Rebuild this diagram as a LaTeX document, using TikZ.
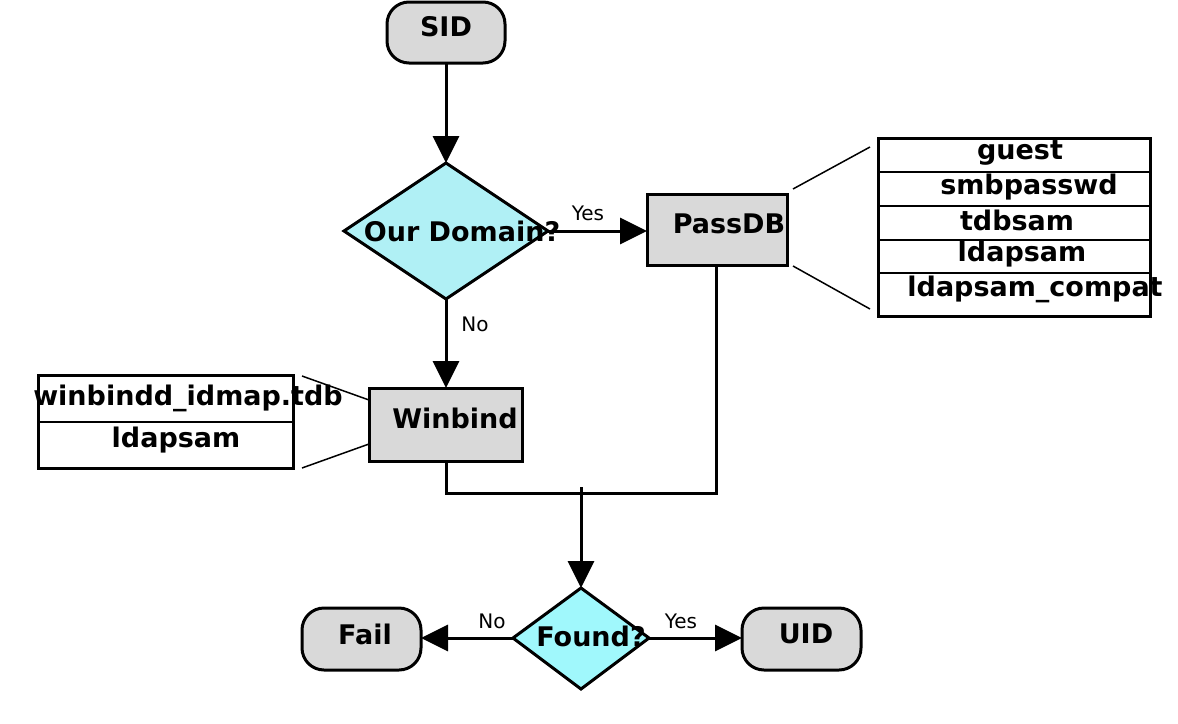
\documentclass[tikz,border=0pt]{standalone}
\usepackage{fontspec}
\setmainfont{DejaVu Sans}
\usetikzlibrary{arrows.meta}
\begin{document}
\begin{tikzpicture}[x=1pt,y=-1pt,
  lw/.style={line width=3pt},
  arr/.style={lw,-{Triangle[length=27pt,width=26pt]}},
  term/.style={draw,lw,fill=gray!30,rounded corners=22pt},
  box/.style={draw,lw,fill=gray!30},
  dia/.style={draw,lw},
  big/.style={font=\fontsize{27}{30}\selectfont\bfseries},
  lab/.style={font=\fontsize{20}{22}\selectfont},
  thin/.style={line width=1.5pt}]
\useasboundingbox (0,0) rectangle (1178,723);
% SID
\draw[term] (387,2) rectangle (505,63);
\node[big] (sid) at (446,27) {SID};
\coordinate (sidb) at (446,63);
% Our domain diamond
\draw[dia,fill={rgb,255:red,176;green,240;blue,245}] (446,163) -- (548,231) -- (446,299) -- (344,231) -- cycle;
\node[big] (dom) at (462,231) {Our Domain?};
\coordinate (domt) at (446,163);
\coordinate (domr) at (548,231);
\coordinate (domb) at (446,299);
\draw[arr] (sidb) -- (domt);
% PassDB
\draw[box] (647,194) rectangle (787,265);
\node[big] (pdb) at (729,224) {PassDB};
\coordinate (pdbl) at (647,231);
\coordinate (pdbb) at (716,265);
\draw[arr] (domr) -- (pdbl);
\node[lab] (yes1) at (588,213) {Yes};
% table right
\draw[lw] (878,138) rectangle (1150,316);
\foreach \y in {172,206,240,273} \draw[thin] (878,\y) -- (1150,\y);
\node[big] (t1) at (1020,153) {guest};
\node[big] (t2) at (1029,187) {smbpasswd};
\node[big] (t3) at (1017,220) {tdbsam};
\node[big] (t4) at (1022,254) {ldapsam};
\node[big] (t5) at (1035,289) {ldapsam\_compat};
\draw[thin] (793,189) -- (870,147);
\draw[thin] (793,266) -- (870,309);
% Winbind
\draw[box] (369,388) rectangle (522,461);
\node[big] (wb) at (455,418) {Winbind};
\coordinate (wbt) at (446,388);
\coordinate (wbb) at (446,461);
\draw[arr] (domb) -- (wbt);
\node[lab] (no1) at (475,324) {No};
% left table
\draw[lw] (38,375) rectangle (293,468);
\draw[thin] (38,422) -- (293,422);
\node[big] (l1) at (188,398) {winbindd\_idmap.tdb};
\node[big] (l2) at (176,440) {ldapsam};
\draw[thin] (302,376) -- (369,400);
\draw[thin] (302,468) -- (369,444);
% join
\draw[lw] (wbb) -- (446,493) -- (716,493) -- (pdbb);
\coordinate (j) at (581,487);
% Found
\draw[dia,fill={rgb,255:red,160;green,248;blue,252}] (581,588) -- (649,638) -- (581,689) -- (513,638) -- cycle;
\node[big] (fd) at (591,636) {Found?};
\coordinate (fdt) at (581,588);
\coordinate (fdl) at (513,638);
\coordinate (fdr) at (649,638);
\draw[arr] (j) -- (fdt);
% Fail, UID
\draw[term] (302,608) rectangle (421,670);
\node[big] (fail) at (365,634) {Fail};
\coordinate (failr) at (421,638);
\draw[term] (742,608) rectangle (861,670);
\node[big] (uid) at (806,634) {UID};
\coordinate (uidl) at (742,638);
\draw[arr] (fdl) -- (failr);
\draw[arr] (fdr) -- (uidl);
\node[lab] (no2) at (492,621) {No};
\node[lab] (yes2) at (681,621) {Yes};
\end{tikzpicture}
\end{document}
